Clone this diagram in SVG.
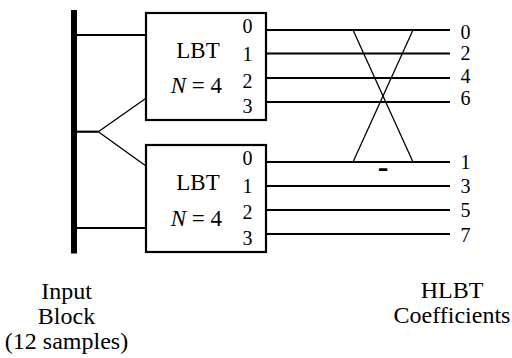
<svg xmlns="http://www.w3.org/2000/svg" width="512" height="358" viewBox="0 0 512 358">
<style>
.box{fill:#fff;stroke:#000;stroke-width:2.2}
.w{stroke:#000;stroke-width:2.2;fill:none}
.t{stroke:#000;stroke-width:1.3;fill:none}
</style>
<rect width="512" height="358" fill="#fff"/>
<g id="input-bar"><rect x="71" y="10" width="6" height="243.5" fill="#000"/></g>
<g id="connectors">
<line class="w" x1="77" y1="35" x2="146" y2="35"/>
<line class="w" x1="77" y1="228" x2="146" y2="228"/>
<line class="w" x1="77" y1="131.7" x2="98.3" y2="131.7"/>
<polyline class="t" points="146,98.3 98.3,131.7 146,166"/>
<line class="w" x1="266" y1="30" x2="450" y2="30"/>
<line class="w" x1="266" y1="53.5" x2="450" y2="53.5"/>
<line class="w" x1="266" y1="78" x2="450" y2="78"/>
<line class="w" x1="266" y1="102" x2="450" y2="102"/>
<line class="w" x1="266" y1="162" x2="450" y2="162"/>
<line class="w" x1="266" y1="186" x2="450" y2="186"/>
<line class="w" x1="266" y1="210" x2="450" y2="210"/>
<line class="w" x1="266" y1="234" x2="450" y2="234"/>
<line class="t" x1="353" y1="30" x2="413" y2="162"/>
<line class="t" x1="413" y1="30" x2="353" y2="162"/>
<text x="383" y="176.5" font-family="Liberation Serif, serif" font-size="32" font-weight="bold" text-anchor="middle">-</text>
</g>
<g id="lbt1" font-family="Liberation Serif, serif">
<rect class="box" x="146" y="13" width="120" height="107"/>
<text x="198" y="58" font-size="23" text-anchor="middle">LBT</text>
<text x="222" y="93" font-size="23" text-anchor="end"><tspan font-style="italic">N</tspan> = 4</text>
<g font-size="20" text-anchor="middle">
<text x="247.5" y="33">0</text>
<text x="247.5" y="60.5">1</text>
<text x="247.5" y="87.5">2</text>
<text x="247.5" y="113">3</text>
</g>
</g>
<g id="lbt2" font-family="Liberation Serif, serif">
<rect class="box" x="146" y="145" width="120" height="107"/>
<text x="198" y="190" font-size="23" text-anchor="middle">LBT</text>
<text x="222" y="226" font-size="23" text-anchor="end"><tspan font-style="italic">N</tspan> = 4</text>
<g font-size="20" text-anchor="middle">
<text x="247.5" y="165">0</text>
<text x="247.5" y="193">1</text>
<text x="247.5" y="218.5">2</text>
<text x="247.5" y="245">3</text>
</g>
</g>
<g id="outputs" font-family="Liberation Serif, serif" font-size="20" text-anchor="middle">
<text x="465.5" y="39">0</text>
<text x="465.5" y="60">2</text>
<text x="465.5" y="83">4</text>
<text x="465.5" y="104.5">6</text>
<text x="465.5" y="168.5">1</text>
<text x="465.5" y="192.5">3</text>
<text x="465.5" y="217">5</text>
<text x="465.5" y="241.5">7</text>
</g>
<g id="label-input" font-family="Liberation Serif, serif" font-size="24" text-anchor="middle">
<text x="66.5" y="299">Input</text>
<text x="66.5" y="324">Block</text>
<text x="66.5" y="349">(12 samples)</text>
</g>
<g id="label-hlbt" font-family="Liberation Serif, serif" font-size="24" text-anchor="middle">
<text x="452" y="298">HLBT</text>
<text x="452" y="323">Coefficients</text>
</g>
</svg>
